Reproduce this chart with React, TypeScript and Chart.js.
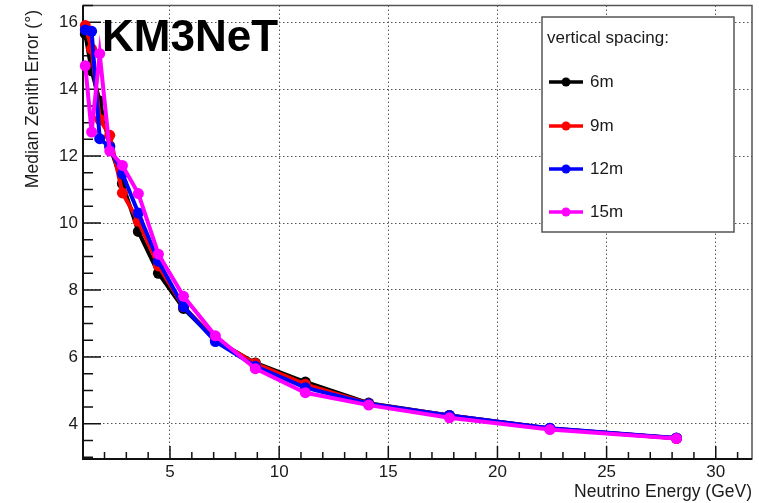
import React, { useEffect, useRef } from 'react';
import { Chart, registerables } from 'chart.js';

Chart.register(...registerables);

// ---- data ----
const energies = [1.12, 1.41, 1.78, 2.24, 2.82, 3.55, 4.47, 5.62, 7.08, 8.91, 11.2, 14.1, 17.8, 22.4, 28.2];
const err6m = [15.65, 14.55, 13.65, 12.3, 11.18, 9.75, 8.5, 7.45, 6.5, 5.82, 5.25, 4.62, 4.25, 3.86, 3.57];
const err9m = [15.9, 15.2, 13.1, 12.62, 10.9, 10.05, 8.72, 7.5, 6.52, 5.8, 5.18, 4.6, 4.25, 3.86, 3.57];
const err12m = [15.77, 15.73, 12.52, 12.27, 11.47, 10.3, 8.86, 7.5, 6.46, 5.72, 5.08, 4.6, 4.25, 3.87, 3.58];
const err15m = [14.7, 12.72, 15.06, 12.15, 11.72, 10.88, 9.07, 7.81, 6.63, 5.65, 4.93, 4.56, 4.18, 3.83, 3.56];

const seriesLabels = ['6m', '9m', '12m', '15m'];
const seriesColors = ['#000000', '#ff0000', '#0000ff', '#ff00ff'];
const xTickValues = [5, 10, 15, 20, 25, 30];
const yTickValues = [4, 6, 8, 10, 12, 14, 16];
const legendTitle = 'vertical spacing:';
const xTitle = 'Neutrino Energy (GeV)';
const yTitle = 'Median Zenith Error (°)';
const watermark = 'KM3NeT';

const FONT = '"Liberation Sans", Arial, sans-serif';

const rootStylePlugin = {
  id: 'rootStyle',
  beforeDatasetsDraw(chart: any) {
    const { ctx, chartArea: a, scales } = chart;
    const x = scales.x;
    const y = scales.y;
    ctx.save();
    ctx.strokeStyle = '#555';
    ctx.lineWidth = 1.5;
    ctx.strokeRect(a.left, a.top, a.right - a.left, a.bottom - a.top);
    ctx.strokeStyle = '#111';
    ctx.lineWidth = 2;
    ctx.beginPath();
    ctx.moveTo(a.left, a.top);
    ctx.lineTo(a.left, a.bottom);
    ctx.lineTo(a.right, a.bottom);
    ctx.stroke();
    ctx.lineWidth = 1.5;
    ctx.beginPath();
    for (let v = Math.ceil(x.min); v <= x.max; v += 1) {
      const px = x.getPixelForValue(v);
      const len = v % 5 === 0 ? 13 : 7;
      ctx.moveTo(px, a.bottom);
      ctx.lineTo(px, a.bottom - len);
    }
    for (let v = Math.ceil(y.min * 2) / 2; v <= y.max; v += 0.5) {
      const py = y.getPixelForValue(v);
      const len = v % 2 === 0 ? 18 : 10;
      ctx.moveTo(a.left, py);
      ctx.lineTo(a.left + len, py);
    }
    ctx.stroke();
    ctx.restore();
  },
  afterDraw(chart: any) {
    const { ctx, chartArea: a } = chart;
    ctx.save();
    // axis titles
    ctx.fillStyle = '#1a1a1a';
    ctx.font = `17.5px ${FONT}`;
    ctx.textAlign = 'right';
    ctx.textBaseline = 'alphabetic';
    ctx.fillText(xTitle, a.right, 497);
    ctx.save();
    ctx.translate(38, 10);
    ctx.rotate(-Math.PI / 2);
    ctx.textAlign = 'right';
    ctx.fillText(yTitle, 0, 0);
    ctx.restore();

    // watermark
    ctx.fillStyle = '#000';
    ctx.font = `bold 44px ${FONT}`;
    ctx.textAlign = 'left';
    ctx.textBaseline = 'alphabetic';
    ctx.fillText(watermark, 102, 51);

    // legend box
    const lx = 542, ly = 17, lw = 192, lh = 215;
    ctx.fillStyle = '#ffffff';
    ctx.fillRect(lx, ly, lw, lh);
    ctx.strokeStyle = '#555';
    ctx.lineWidth = 1.5;
    ctx.strokeRect(lx, ly, lw, lh);
    ctx.fillStyle = '#1a1a1a';
    ctx.font = `17px ${FONT}`;
    ctx.textBaseline = 'middle';
    ctx.fillText(legendTitle, 547, 38);
    const rows = [82, 126, 169, 212];
    chart.data.datasets.forEach((ds: any, i: number) => {
      const yy = rows[i];
      ctx.strokeStyle = ds.borderColor;
      ctx.lineWidth = 3.5;
      ctx.beginPath();
      ctx.moveTo(549, yy);
      ctx.lineTo(583, yy);
      ctx.stroke();
      ctx.fillStyle = ds.borderColor;
      ctx.beginPath();
      ctx.arc(566, yy, 4.5, 0, Math.PI * 2);
      ctx.fill();
      ctx.fillStyle = '#1a1a1a';
      ctx.fillText(ds.label, 590, yy);
    });
    ctx.restore();
  },
};

export default function App() {
  const canvasRef = useRef<HTMLCanvasElement | null>(null);

  useEffect(() => {
    const canvas = canvasRef.current;
    if (!canvas) return;
    const series = [err6m, err9m, err12m, err15m];
    const datasets = series.map((vals, i) => ({
      label: seriesLabels[i],
      data: energies.map((e, j) => ({ x: e, y: vals[j] })),
      borderColor: seriesColors[i],
      backgroundColor: seriesColors[i],
      pointBackgroundColor: seriesColors[i],
      pointBorderColor: seriesColors[i],
      pointBorderWidth: 0,
      pointRadius: 5.5,
      borderWidth: 4,
      tension: 0,
      clip: false as any,
      order: 3 - i,
    }));
    const chart = new Chart(canvas, {
      type: 'line',
      data: { datasets },
      plugins: [rootStylePlugin],
      options: {
        responsive: false,
        animation: false,
        layout: { padding: { top: 5, right: 7, left: 0, bottom: 0 } },
        plugins: {
          legend: { display: false },
          tooltip: { enabled: false },
        },
        scales: {
          x: {
            type: 'linear',
            min: 1.015,
            max: 31.66,
            afterBuildTicks: (s: any) => {
              s.ticks = xTickValues.map((v) => ({ value: v }));
            },
            afterFit: (s: any) => {
              s.height = 44;
              s.paddingLeft = 0;
              s.paddingRight = 0;
              s.paddingTop = 0;
              s.paddingBottom = 0;
            },
            ticks: {
              padding: 3,
              color: '#1a1a1a',
              font: { family: FONT, size: 17 },
              maxRotation: 0,
              autoSkip: false,
            },
            grid: { drawTicks: false, color: '#555', lineWidth: 1 },
            border: { display: false, dash: [1.5, 2.5] },
          },
          y: {
            type: 'linear',
            min: 2.95,
            max: 16.5,
            afterBuildTicks: (s: any) => {
              s.ticks = yTickValues.map((v) => ({ value: v }));
            },
            afterFit: (s: any) => {
              s.width = 83;
              s.paddingLeft = 0;
              s.paddingRight = 0;
              s.paddingTop = 0;
              s.paddingBottom = 0;
            },
            ticks: {
              padding: 5,
              color: '#1a1a1a',
              font: { family: FONT, size: 17 },
              autoSkip: false,
            },
            grid: { drawTicks: false, color: '#555', lineWidth: 1 },
            border: { display: false, dash: [1.5, 2.5] },
          },
        },
      },
    });
    return () => chart.destroy();
  }, []);

  return (
    <div style={{ position: 'absolute', left: 0, top: 0, width: 759, height: 503, background: '#fff' }}>
      <canvas ref={canvasRef} width={759} height={503} style={{ display: 'block' }} />
    </div>
  );
}
